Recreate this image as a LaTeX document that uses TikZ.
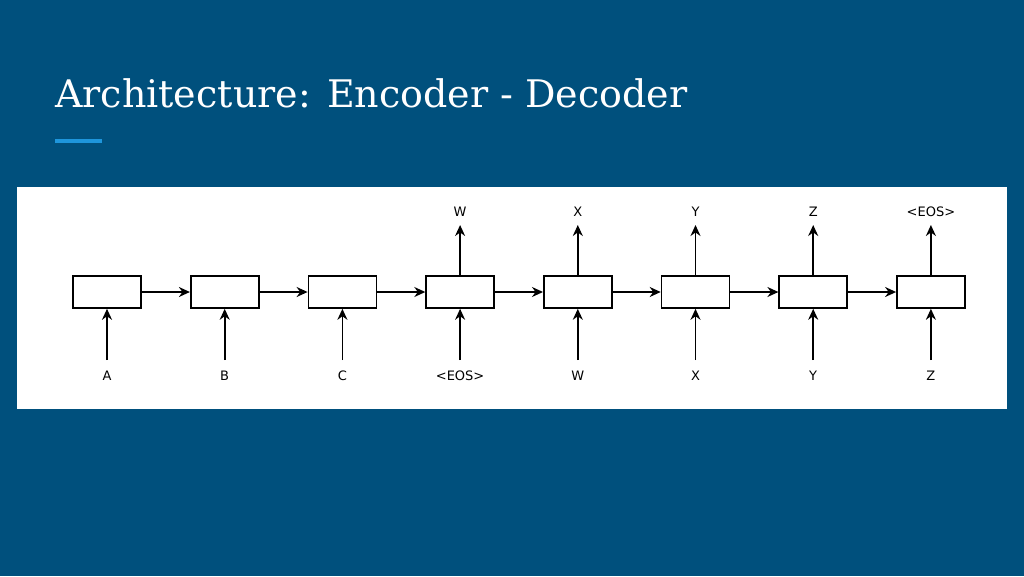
\documentclass[tikz,border=0pt]{standalone}
\usepackage{fontspec}
\setmainfont{DejaVu Serif}
\newfontfamily\labelfont{DejaVu Sans}
\usetikzlibrary{arrows.meta}
\definecolor{slide}{HTML}{00507D}
\definecolor{accent}{HTML}{1E96DC}
\tikzset{
  cell/.style={draw, line width=1.6pt, minimum width=68pt, minimum height=32pt, inner sep=0pt, fill=white},
  tok/.style={font=\labelfont\fontsize{13}{13}\selectfont, inner sep=0pt},
  link/.style={line width=1.6pt, -{Stealth[length=11pt,width=10pt]}}
}
\begin{document}
\begin{tikzpicture}[x=1pt, y=-1pt]
  \fill[slide] (0,0) rectangle (1024,576);
  \node[anchor=base west, text=white, font=\fontsize{38}{38}\selectfont, inner sep=0pt] (title) at (55,107) {Architecture: Encoder - Decoder};
  \fill[accent] (55,139) rectangle (102,143);
  \fill[white] (17,187) rectangle (1007,409);
  % cells with their inputs
  \foreach \i/\inp in {1/A, 2/B, 3/C, 4/{<EOS>}, 5/W, 6/X, 7/Y, 8/Z} {
    \node[cell] (c\i) at ({107+117.7*(\i-1)},292) {};
    \node[tok] (in\i) at ({107+117.7*(\i-1)},376) {\inp};
    \coordinate (src\i) at ({107+117.7*(\i-1)},360);
    \draw[link] (src\i) -- (c\i.south);
  }
  % decoder outputs
  \foreach \i/\outp in {4/W, 5/X, 6/Y, 7/Z, 8/{<EOS>}} {
    \coordinate (dst\i) at ({107+117.7*(\i-1)},225);
    \node[tok] (out\i) at ({107+117.7*(\i-1)},212) {\outp};
    \draw[link] (c\i.north) -- (dst\i);
  }
  \foreach \i/\j in {1/2, 2/3, 3/4, 4/5, 5/6, 6/7, 7/8}
    \draw[link] (c\i.east) -- (c\j.west);
\end{tikzpicture}
\end{document}
